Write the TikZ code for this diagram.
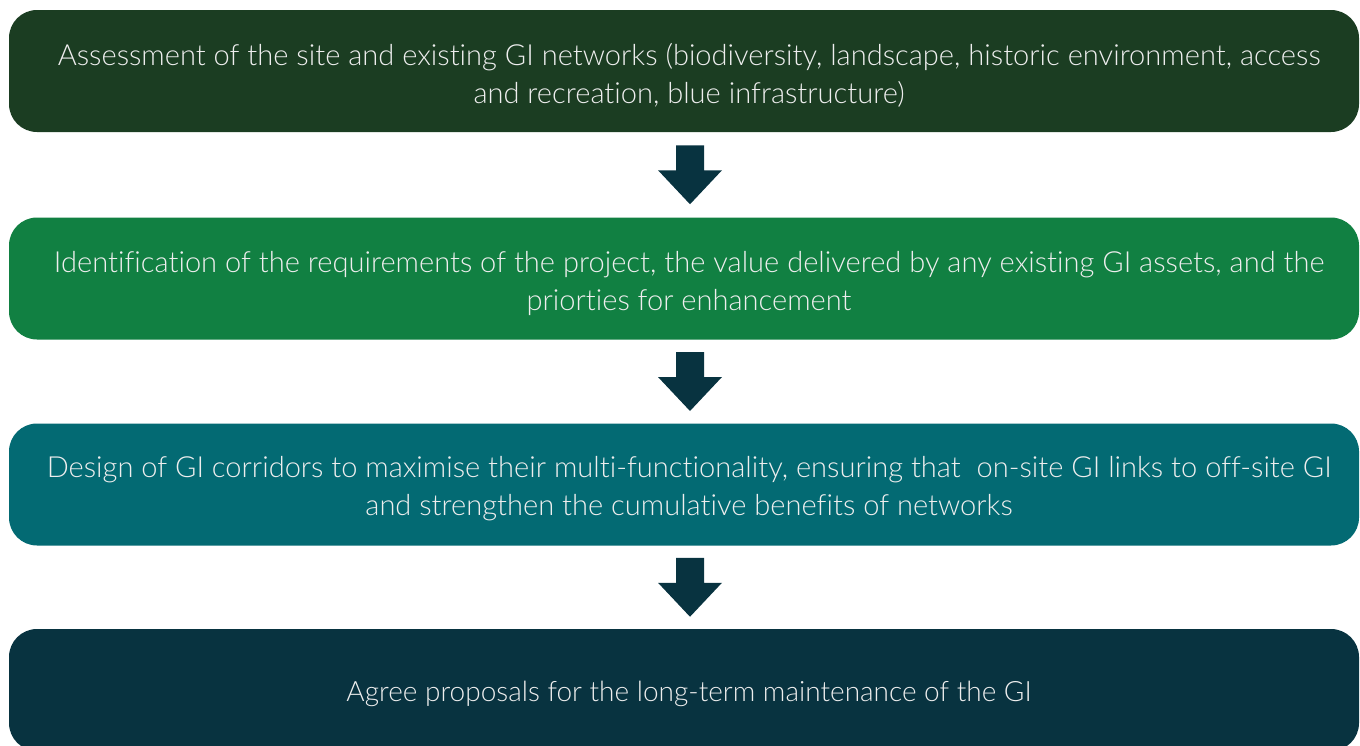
\documentclass[tikz,border=0pt]{standalone}
\usepackage{fontspec}
\setmainfont{Lato Light}[Ligatures={NoCommon}]
\usetikzlibrary{calc}
\definecolor{cA}{HTML}{1B3D22}
\definecolor{cB}{HTML}{118042}
\definecolor{cC}{HTML}{036A73}
\definecolor{cD}{HTML}{083340}
\definecolor{txt}{HTML}{EEEEEE}
\tikzset{
  box/.style={rectangle, rounded corners=21pt, minimum width=1012.5pt, minimum height=91.5pt, inner sep=0pt, draw=none},
  label/.style={text=txt, align=center, inner sep=0pt, font=\fontsize{21.8}{28.5}\selectfont},
  shortlabel/.style={label, font=\fontsize{21}{28.5}\selectfont},
  flowarrow/.style={fill=cD, draw=none},
}
\begin{document}
\begin{tikzpicture}[x=0.75pt,y=-0.75pt]
\useasboundingbox (0,0) rectangle (1360,746);
\node[box, fill=cA] (b1) at (684,71) {};
\node[box, fill=cB] (b2) at (684,278.5) {};
\node[box, fill=cC] (b3) at (684,484.5) {};
\node[box, fill=cD] (b4) at (684,690) {};
\node[label] (t1) at (689,75) {Assessment of the site and existing GI networks (biodiversity, landscape, historic environment, access\\and recreation, blue infrastructure)};
\node[label] (t2) at (689,283) {Identification of the requirements of the project, the value delivered by any existing GI assets, and the\\priorties for enhancement};
\node[label] (t3) at (689,489) {Design of GI corridors to maximise their multi-functionality, ensuring that~ on-site GI links to off-site GI\\and strengthen the cumulative benefits of networks};
\node[shortlabel] (t4) at (689,694) {Agree proposals for the long-term maintenance of the GI};
\foreach \u/\l in {b1/b2,b2/b3,b3/b4}{
  \coordinate (m) at ($(\u.south)!0.5!(\l.north)$);
  \fill[flowarrow] ($(m)+(-8,-29.5)$) -- ($(m)+(20,-29.5)$) -- ($(m)+(20,-4.5)$) -- ($(m)+(38,-4.5)$) -- ($(m)+(6,29.5)$) -- ($(m)+(-26,-4.5)$) -- ($(m)+(-8,-4.5)$) -- cycle;
}
\end{tikzpicture}
\end{document}
